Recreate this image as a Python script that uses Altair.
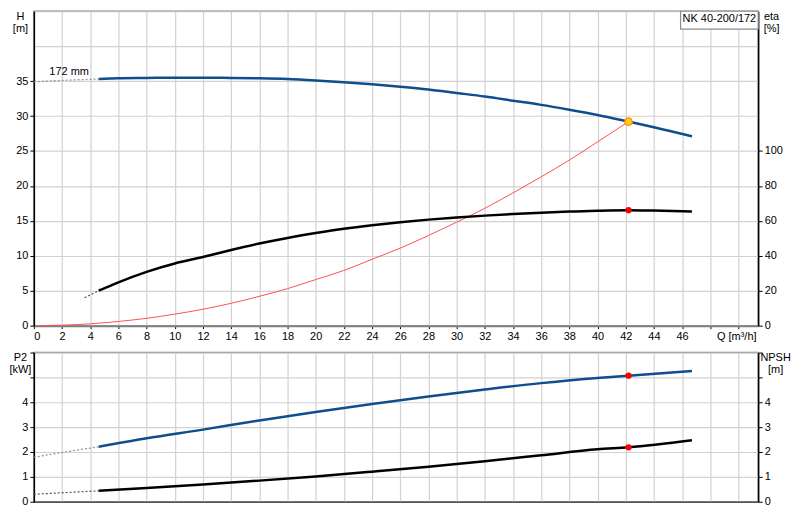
import altair as alt
import pandas as pd

# ---------------- data ----------------
# Head curve (172 mm impeller), H [m]
q_head_dash = [0, 2, 4.6]
h_head_dash = [34.9, 35.1, 35.3]
q_head = [4.6, 6, 8, 10, 12, 14, 16, 18, 20, 22, 24, 26, 28, 30, 32, 34, 36, 38, 40, 42.2, 44, 46.7]
h_head = [35.3, 35.4, 35.45, 35.5, 35.5, 35.45, 35.4, 35.3, 35.1, 34.85, 34.55, 34.2, 33.8, 33.3,
          32.8, 32.2, 31.6, 30.9, 30.15, 29.2, 28.4, 27.1]

# System curve, H [m]
q_sys = [0.4, 2, 4, 6, 8, 10, 12, 14, 16, 18, 20, 22, 24, 26, 28, 30, 32, 34, 36, 38, 40, 42.2]
h_sys = [0, 0.07, 0.26, 0.6, 1.05, 1.65, 2.35, 3.2, 4.2, 5.3, 6.6, 7.9, 9.5, 11.1, 12.9, 14.8,
         16.8, 19.0, 21.3, 23.7, 26.3, 29.2]

# Efficiency, eta [%]
q_eta_dash = [3.6, 4.6]
eta_dash = [16, 20]
q_eta = [4.6, 6, 8, 10, 12, 14, 16, 18, 20, 22, 24, 26, 28, 30, 32, 34, 36, 38, 40, 42.2, 44, 46.7]
eta = [20, 24.8, 30.8, 35.6, 39.3, 43.3, 47, 50.2, 53, 55.5, 57.5, 59.2, 60.7, 61.9, 63.0, 63.9,
       64.7, 65.3, 65.8, 66.1, 65.9, 65.4]

# Power P2 [kW]
q_p2_dash = [0, 2, 4.6]
p2_dash = [1.79, 1.98, 2.21]
q_p2 = [4.6, 8, 12, 16, 20, 24, 28, 32, 36, 40, 42.2, 46.7]
p2 = [2.21, 2.55, 2.90, 3.27, 3.61, 3.93, 4.23, 4.51, 4.77, 4.98, 5.07, 5.26]

# NPSH [m]
q_npsh_dash = [0, 4.6]
npsh_dash = [0.30, 0.44]
q_npsh = [4.6, 8, 12, 16, 20, 24, 28, 32, 36, 40, 42.2, 46.7]
npsh = [0.44, 0.55, 0.69, 0.85, 1.02, 1.21, 1.41, 1.63, 1.87, 2.11, 2.19, 2.47]

# Duty point
q_duty = [42.2]
h_duty = [29.2]
eta_duty = [66.1]
p2_duty = [5.07]
npsh_duty = [2.19]

curve_label = ["172 mm"]
curve_label_q = [2.5]
curve_label_h = [36.35]
pump_name = ["NK 40-200/172"]

x_ticks = list(range(0, 51, 2))
h_ticks = list(range(0, 46, 5))
eta_ticks = list(range(0, 101, 20))
p_ticks = list(range(0, 7))

# ---------------- styling ----------------
FONT = "Liberation Sans"
BLUE = "#0e4e8c"
W, H1, H2 = 728, 316, 150
XMAX = 51.4


def df(q, v):
    return pd.DataFrame({"q": q, "v": v})


def xenc(top):
    if top:
        axis = alt.Axis(values=x_ticks, labelExpr="datum.value > 46 ? '' : datum.label",
                        title="Q [m³/h]", titleX=706, titleY=5, titleAlign="center",
                        titleBaseline="top", tickSize=3, labelPadding=2,
                        domainColor="#808080", domainWidth=2, grid=True)
    else:
        axis = alt.Axis(values=x_ticks, labels=False, ticks=False, title=None,
                        domainColor="#555555", domainWidth=1.5, grid=True)
    return alt.X("q:Q", scale=alt.Scale(domain=[0, XMAX], nice=False, zero=False), axis=axis)


y_h = alt.Y("v:Q", scale=alt.Scale(domain=[0, 45], nice=False),
            axis=alt.Axis(values=h_ticks, labelExpr="datum.value > 35 ? '' : datum.label",
                          tickColor={"condition": {"test": "datum.value > 35", "value": "transparent"},
                                     "value": "#000000"},
                          title=["H", "[m]"], titleAngle=0, titleX=-14, titleY=-1,
                          titleAlign="center", titleBaseline="top", grid=True,
                          tickSize=4, labelPadding=2))

y_eta = alt.Y("v:Q", scale=alt.Scale(domain=[0, 180], nice=False),
              axis=alt.Axis(orient="right", values=eta_ticks, title=["eta", "[%]"], titleAngle=0,
                            titleX=13, titleY=-1, titleAlign="center", titleBaseline="top",
                            grid=False, tickSize=4, labelPadding=2))

y_p2 = alt.Y("v:Q", scale=alt.Scale(domain=[0, 6], nice=False),
             axis=alt.Axis(values=p_ticks, labelExpr="datum.value > 4 ? '' : datum.label",
                           title=["P2", "[kW]"], titleAngle=0, titleX=-14, titleY=-1,
                           titleAlign="center", titleBaseline="top", grid=True,
                           tickSize=4, labelPadding=2))

y_npsh = alt.Y("v:Q", scale=alt.Scale(domain=[0, 6], nice=False),
               axis=alt.Axis(orient="right", values=p_ticks,
                             labelExpr="datum.value > 4 ? '' : datum.label",
                             title=["NPSH", "[m]"], titleAngle=0, titleX=17, titleY=-1,
                             titleAlign="center", titleBaseline="top", grid=False,
                             tickSize=4, labelPadding=2))

dash_style = dict(strokeWidth=1.2, strokeDash=[2, 2])
INTERP = "monotone"

# ---------------- top panel ----------------
xt = xenc(True)
head_dash = alt.Chart(df(q_head_dash, h_head_dash)).mark_line(
    color="#8395ad", interpolate=INTERP, **dash_style).encode(x=xt, y=y_h)
sys_line = alt.Chart(df(q_sys, h_sys)).mark_line(
    color="#ff5050", strokeWidth=1, interpolate=INTERP).encode(x=xt, y=y_h)
head_line = alt.Chart(df(q_head, h_head)).mark_line(
    color=BLUE, strokeWidth=2.5, interpolate=INTERP).encode(x=xt, y=y_h)
head_pt = alt.Chart(df(q_duty, h_duty)).mark_circle(size=55, color="#ffd21a", stroke="#ff8c00",
                                                    strokeWidth=1.3, opacity=1).encode(x=xt, y=y_h)
lbl = alt.Chart(pd.DataFrame({"q": curve_label_q, "v": curve_label_h, "t": curve_label})).mark_text(
    font=FONT, fontSize=11, color="#000000", align="center", baseline="middle").encode(x=xt, y=y_h, text="t:N")
box = alt.Chart(pd.DataFrame({"t": pump_name})).mark_rect(fill="white", stroke="#8c8c8c", strokeWidth=1.2).encode(
    x=alt.value(650), x2=alt.value(728), y=alt.value(0), y2=alt.value(18))
box_txt = alt.Chart(pd.DataFrame({"t": pump_name})).mark_text(
    font=FONT, fontSize=11, color="#000000", align="center", baseline="middle").encode(
    x=alt.value(689), y=alt.value(8), text="t:N")

left_top = alt.layer(head_dash, sys_line, head_line, head_pt, lbl, box, box_txt)

eta_d = alt.Chart(df(q_eta_dash, eta_dash)).mark_line(color="#555555", **dash_style).encode(x=xt, y=y_eta)
eta_l = alt.Chart(df(q_eta, eta)).mark_line(
    color="#000000", strokeWidth=2.5, interpolate=INTERP).encode(x=xt, y=y_eta)
eta_p = alt.Chart(df(q_duty, eta_duty)).mark_circle(size=40, color="#ff0000", opacity=1).encode(x=xt, y=y_eta)
right_top = alt.layer(eta_d, eta_l, eta_p)

top = alt.layer(left_top, right_top).resolve_scale(y="independent").properties(width=W, height=H1)

# ---------------- bottom panel ----------------
xb = xenc(False)
p2_d = alt.Chart(df(q_p2_dash, p2_dash)).mark_line(
    color="#8395ad", interpolate=INTERP, **dash_style).encode(x=xb, y=y_p2)
p2_l = alt.Chart(df(q_p2, p2)).mark_line(
    color=BLUE, strokeWidth=2.5, interpolate=INTERP).encode(x=xb, y=y_p2)
p2_p = alt.Chart(df(q_duty, p2_duty)).mark_circle(size=40, color="#ff0000", opacity=1).encode(x=xb, y=y_p2)
left_bot = alt.layer(p2_d, p2_l, p2_p)

np_d = alt.Chart(df(q_npsh_dash, npsh_dash)).mark_line(color="#555555", **dash_style).encode(x=xb, y=y_npsh)
np_l = alt.Chart(df(q_npsh, npsh)).mark_line(
    color="#000000", strokeWidth=2.5, interpolate=INTERP).encode(x=xb, y=y_npsh)
np_p = alt.Chart(df(q_duty, npsh_duty)).mark_circle(size=40, color="#ff0000", opacity=1).encode(x=xb, y=y_npsh)
right_bot = alt.layer(np_d, np_l, np_p)

bottom = alt.layer(left_bot, right_bot).resolve_scale(y="independent").properties(width=W, height=H2)

chart = alt.vconcat(top, bottom, spacing=8).properties(
    padding={"top": 0, "left": 0, "right": 0, "bottom": 0}
).configure(font=FONT).configure_view(
    stroke="#808080", strokeWidth=1.5
).configure_axis(
    labelFont=FONT, titleFont=FONT, labelFontSize=11, titleFontSize=11,
    labelColor="#000000", titleColor="#000000", titleFontWeight="normal",
    titleLineHeight=12, gridColor="#d2d2d2", gridWidth=1.2,
    tickColor="#000000", domainColor="#000000", domainWidth=1.5
)

chart.save("out.html", embed_options={"renderer": "svg", "actions": False})
